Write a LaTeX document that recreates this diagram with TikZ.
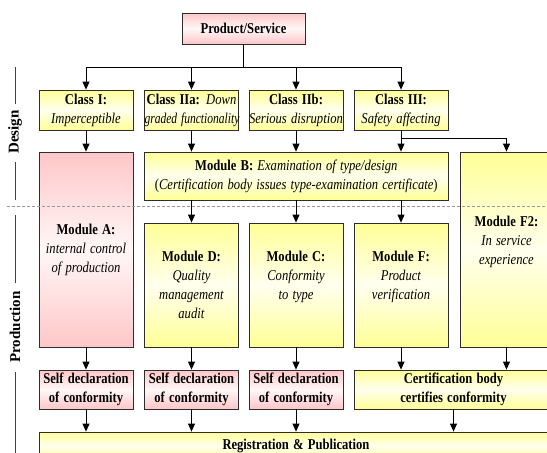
\documentclass[tikz,border=0pt]{standalone}
\usepackage{fontspec}
\usepackage{graphicx}
\setmainfont{Liberation Serif}
\newcommand{\sqz}[1]{\scalebox{0.84}[1]{#1}}
\usetikzlibrary{arrows.meta,calc}
\definecolor{ylw}{RGB}{255,255,150}
\definecolor{ylwl}{RGB}{255,255,238}
\definecolor{pnk}{RGB}{255,198,200}
\definecolor{pnkl}{RGB}{255,247,247}
\definecolor{edge}{RGB}{45,45,45}
\begin{document}
\begin{tikzpicture}[x=1pt,y=-1pt,
  box/.style={draw=edge, line width=0.8pt, align=center, inner sep=0pt,
              font=\fontsize{15}{19}\selectfont},
  ybox/.style={box, top color=ylw, bottom color=ylw, middle color=ylwl},
  pbox/.style={box, top color=pnk, bottom color=pnk, middle color=pnkl},
  wire/.style={line width=0.8pt, black},
  arr/.style={wire, -{Triangle[width=7pt,length=8pt]}},
  sidelab/.style={rotate=90, font=\bfseries\fontsize{15}{18}\selectfont},
  sideline/.style={line width=0.7pt, black!75},
]
\clip (0,0) rectangle (547,453);
\fill[white] (0,0) rectangle (547,453);

% top
\node[pbox, text width=123pt, minimum height=31pt] (prod) at (243.5,28.5) {\sqz{\textbf{Product/Service}}};

% classes
\node[ybox, text width=94pt, minimum height=40pt] (c1) at (86,110) {\sqz{\textbf{Class I:}}\\\sqz{\textit{Imperceptible}}};
\node[ybox, text width=94pt, minimum height=40pt] (c2a) at (191.5,110) {\sqz{\textbf{Class IIa:} \textit{Down}}\\\scalebox{0.77}[1]{\textit{graded functionality}}};
\node[ybox, text width=94pt, minimum height=40pt] (c2b) at (296,110) {\sqz{\textbf{Class IIb:}}\\\sqz{\textit{Serious disruption}}};
\node[ybox, text width=94pt, minimum height=40pt] (c3) at (401,110) {\sqz{\textbf{Class III:}}\\\sqz{\textit{Safety affecting}}};

% modules
\node[pbox, text width=94pt, minimum height=195pt] (mA) at (86,249.5) {\sqz{\textbf{Module A:}}\\\sqz{\textit{internal control}}\\\sqz{\textit{of production}}};
\node[ybox, text width=303.5pt, minimum height=48pt] (mB) at (296.25,176) {\sqz{\textbf{Module B:} \textit{Examination of type/design}}\\\sqz{(\textit{Certification body issues type-examination certificate})}};
\node[ybox, text width=93pt, minimum height=195pt] (mF2) at (506.5,249.5) {\sqz{\textbf{Module F2:}}\\\sqz{\textit{In service}}\\\sqz{\textit{experience}}\\\mbox{}};
\node[ybox, text width=94pt, minimum height=124pt] (mD) at (191.5,285) {\sqz{\textbf{Module D:}}\\\sqz{\textit{Quality}}\\\sqz{\textit{management}}\\\sqz{\textit{audit}}};
\node[ybox, text width=94pt, minimum height=124pt] (mC) at (296,285) {\sqz{\textbf{Module C:}}\\\sqz{\textit{Conformity}}\\\sqz{\textit{to type}}\\\mbox{}};
\node[ybox, text width=94pt, minimum height=124pt] (mF) at (401,285) {\sqz{\textbf{Module F:}}\\\sqz{\textit{Product}}\\\sqz{\textit{verification}}\\\mbox{}};

% declarations
\node[pbox, text width=94pt, minimum height=39pt] (d1) at (86,389.5) {\sqz{\textbf{Self declaration}}\\\sqz{\textbf{of conformity}}};
\node[pbox, text width=94pt, minimum height=39pt] (d2) at (191.5,389.5) {\sqz{\textbf{Self declaration}}\\\sqz{\textbf{of conformity}}};
\node[pbox, text width=94pt, minimum height=39pt] (d3) at (296,389.5) {\sqz{\textbf{Self declaration}}\\\sqz{\textbf{of conformity}}};
\node[ybox, text width=199pt, minimum height=39pt] (cert) at (453.5,389.5) {\sqz{\textbf{Certification body}}\\\sqz{\textbf{certifies conformity}}};

% registration
\node[ybox, text width=514pt, minimum height=28pt] (reg) at (296,446) {\sqz{\textbf{Registration \& Publication}}};

% connectors
\coordinate (j) at (243.5,67);
\draw[wire] (prod) -- (j);
\draw[arr] (j) -| (c1);
\draw[arr] (j) -| (c2a);
\draw[arr] (j) -| (c2b);
\draw[arr] (j) -| (c3);

\draw[arr] (c1) -- (mA);
\draw[arr] (c2a.south) -- (c2a.south |- mB.north);
\draw[arr] (c2b.south) -- (c2b.south |- mB.north);
\draw[arr] (c3.south) -- (c3.south |- mB.north);
\coordinate (k) at ($(c3.south)+(0,8)$);
\draw[arr] (k) -| (mF2.north);

\draw[arr] (mD.north |- mB.south) -- (mD.north);
\draw[arr] (mC.north |- mB.south) -- (mC.north);
\draw[arr] (mF.north |- mB.south) -- (mF.north);

\draw[arr] (mA) -- (d1);
\draw[arr] (mD) -- (d2);
\draw[arr] (mC) -- (d3);
\draw[arr] (mF.south) -- (mF.south |- cert.north);
\draw[arr] (mF2.south) -- (mF2.south |- cert.north);

\draw[arr] (d1.south) -- (d1.south |- reg.north);
\draw[arr] (d2.south) -- (d2.south |- reg.north);
\draw[arr] (d3.south) -- (d3.south |- reg.north);
\draw[arr] (cert.south) -- (cert.south |- reg.north);

% dashed divider
\draw[black!40, line width=0.8pt, dash pattern=on 3pt off 2pt] (7,206) -- (547,206);

% side labels
\node[sidelab] (des) at (15,132) {Design};
\node[sidelab] (prd) at (15,327) {Production};
\draw[sideline] (15,67) -- (15,104);
\draw[sideline] (15,162) -- (15,200);
\draw[sideline] (15,215) -- (15,283);
\draw[sideline] (15,372) -- (15,453);
\end{tikzpicture}
\end{document}
